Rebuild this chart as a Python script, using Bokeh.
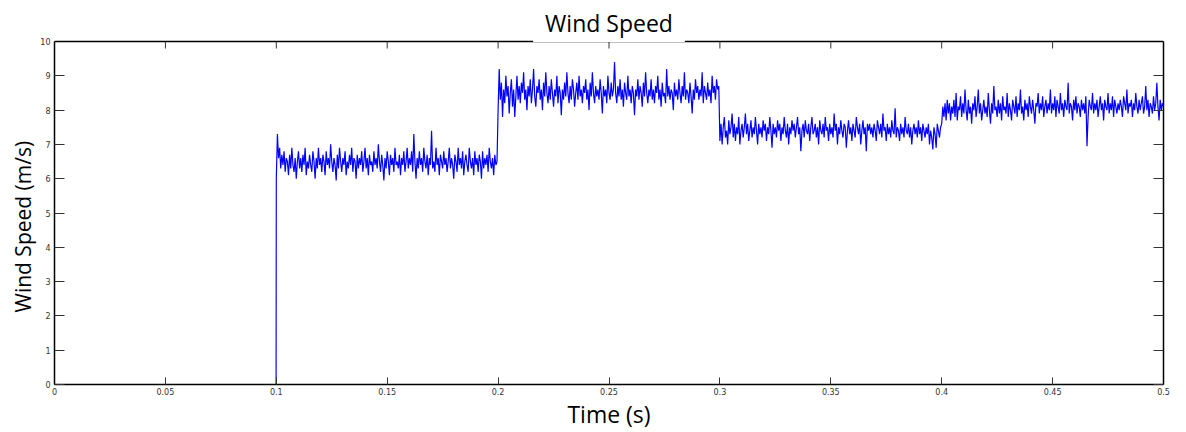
from bokeh.plotting import figure
from bokeh.models import Range1d, LinearAxis, FixedTicker, Label, Span, Title
from bokeh.embed import file_html
from bokeh.resources import INLINE

# ---- data ----
title_text = "Wind Speed"
x_label = "Time (s)"
y_label = "Wind Speed (m/s)"
x_ticks = [0, 0.05, 0.1, 0.15, 0.2, 0.25, 0.3, 0.35, 0.4, 0.45, 0.5]
x_tick_labels = ["0", "0.05", "0.1", "0.15", "0.2", "0.25", "0.3", "0.35", "0.4", "0.45", "0.5"]
y_ticks = [0, 1, 2, 3, 4, 5, 6, 7, 8, 9, 10]
y_tick_labels = ["0", "1", "2", "3", "4", "5", "6", "7", "8", "9", "10"]
y_max = 10

# calm period before the wind starts
calm_time = [0.0, 0.0999]
calm_speed = [0.0, 0.0]

# sampled every 0.5 ms from 0.100 s to 0.500 s
sample_start = 0.100
sample_step = 0.0005

speed_seg1 = [
    6.0, 7.3, 6.6, 6.9, 6.3, 6.7, 6.4, 6.8, 6.2, 6.6,
    6.5, 6.1, 6.7, 6.3, 6.9, 6.4, 6.2, 6.6, 6.0, 6.5,
    6.8, 6.3, 6.6, 6.2, 6.7, 6.4, 6.9, 6.1, 6.5, 6.3,
    6.7, 6.4, 6.2, 6.8, 6.5, 6.0, 6.6, 6.3, 6.9, 6.4,
    6.6, 6.2, 6.7, 6.5, 6.1, 6.8, 6.4, 6.6, 6.3, 7.0,
    6.5, 6.2, 6.6, 6.4, 5.95, 6.7, 6.3, 6.9, 6.5, 6.2,
    6.6, 6.4, 6.8, 6.1, 6.5, 6.3, 6.7, 6.4, 6.9, 6.2,
    6.6, 6.5, 6.0, 6.7, 6.3, 6.6, 6.4, 6.8, 6.2, 6.5,
    6.9, 6.3, 6.6, 6.1, 6.7, 6.4, 6.5, 6.2, 6.8, 6.4,
    6.6, 6.3, 7.0, 6.5, 6.2, 6.7, 6.4, 5.95, 6.6, 6.3,
    6.8, 6.5, 6.1, 6.7, 6.4, 6.6, 6.2, 6.9, 6.4, 6.5,
    6.3, 6.7, 6.1, 6.6, 6.4, 6.8, 6.2, 6.5, 6.9, 6.3,
    6.6, 6.4, 6.8, 6.2, 7.3, 6.5, 6.0, 6.6, 6.3, 6.8,
    6.4, 6.6, 6.2, 6.9, 6.5, 6.3, 6.7, 6.1, 6.6, 6.4,
    7.4, 6.3, 6.5, 6.2, 6.9, 6.4, 6.6, 6.1, 6.7, 6.5,
    6.3, 6.8, 6.4, 6.6, 6.2, 6.5, 6.9, 6.3, 6.6, 6.4,
    6.0, 6.7, 6.5, 6.2, 6.9, 6.4, 6.6, 6.3, 6.8, 6.1,
    6.5, 6.7, 6.4, 6.2, 6.9, 6.5, 6.3, 6.6, 6.1, 6.8,
    6.4, 6.6, 6.2, 6.7, 6.5, 6.0, 6.8, 6.3, 6.6, 6.4,
    6.7, 6.2, 6.9, 6.5, 6.3, 6.6, 6.1, 6.7, 6.4, 6.5,
]
speed_seg2 = [
    8.0, 9.2, 8.3, 8.8, 7.8, 8.6, 8.2, 9.0, 8.4, 8.7,
    7.9, 8.5, 8.9, 8.1, 8.6, 7.8, 8.4, 9.0, 8.3, 8.7,
    8.2, 8.8, 8.5, 9.1, 8.3, 8.6, 8.0, 8.7, 8.4, 8.9,
    8.2, 8.6, 9.2, 8.4, 8.1, 8.7, 8.5, 8.9, 8.3, 8.6,
    8.0, 8.8, 8.4, 9.1, 8.5, 8.2, 8.7, 8.3, 8.9, 8.5,
    8.1, 8.6, 8.4, 9.0, 8.2, 8.7, 8.5, 7.85, 8.6, 8.3,
    8.8, 8.4, 9.1, 8.5, 8.2, 8.7, 8.3, 8.9, 8.6, 8.1,
    8.5, 8.8, 8.3, 9.0, 8.4, 8.6, 8.2, 8.7, 8.5, 8.9,
    8.3, 8.6, 8.0, 8.8, 8.4, 9.1, 8.5, 8.2, 8.7, 8.4,
    8.6, 8.3, 8.9, 8.5, 7.9, 8.7, 8.4, 8.6, 8.2, 9.0,
    8.5, 8.3, 8.8, 8.4, 8.6, 9.4, 8.5, 8.2, 8.7, 8.4,
    8.9, 8.3, 8.6, 8.1, 8.8, 8.5, 8.3, 9.0, 8.4, 8.6,
    8.2, 8.7, 8.5, 7.85, 8.6, 8.4, 8.9, 8.3, 8.7, 8.5,
    8.1, 8.8, 8.4, 9.1, 8.5, 8.2, 8.6, 8.4, 8.9, 8.3,
    8.6, 8.2, 8.7, 8.5, 9.0, 8.3, 8.6, 8.1, 8.8, 8.4,
    8.5, 8.2, 9.2, 8.4, 8.7, 8.3, 8.6, 8.5, 8.0, 8.8,
    8.4, 8.6, 8.3, 8.9, 8.5, 8.2, 8.7, 8.4, 9.1, 8.3,
    8.6, 8.5, 8.2, 8.8, 8.4, 7.9, 8.6, 8.3, 8.9, 8.5,
    8.7, 8.3, 8.6, 8.4, 9.1, 8.2, 8.7, 8.5, 8.3, 8.8,
    8.4, 8.6, 8.2, 9.0, 8.5, 8.7, 8.3, 8.9, 8.6, 8.7,
]
speed_seg3 = [
    7.1, 7.6, 7.0, 7.5, 7.8, 7.2, 7.4, 7.0, 7.7, 7.3,
    7.5, 7.9, 7.2, 7.6, 7.1, 7.5, 7.3, 7.8, 7.0, 7.4,
    7.6, 7.2, 7.5, 7.9, 7.3, 7.6, 7.1, 7.4, 7.7, 7.2,
    7.5, 7.3, 7.8, 7.4, 7.0, 7.6, 7.3, 7.5, 7.2, 7.7,
    7.4, 7.6, 7.1, 7.5, 7.3, 7.8, 7.4, 6.9, 7.6, 7.3,
    7.5, 7.2, 7.7, 7.4, 7.6, 7.1, 7.5, 7.3, 7.8, 7.4,
    7.2, 7.6, 7.0, 7.5, 7.3, 7.7, 7.4, 7.6, 7.2, 7.5,
    7.8, 7.3, 7.5, 6.8, 7.4, 7.6, 7.2, 7.7, 7.4, 7.3,
    7.6, 7.1, 7.5, 7.8, 7.3, 7.4, 7.6, 7.2, 7.5, 7.0,
    7.7, 7.4, 7.3, 7.6, 7.2, 7.8, 7.4, 7.5, 7.1, 7.6,
    7.3, 7.5, 7.2, 7.9, 7.4, 7.6, 7.0, 7.5, 7.3, 7.7,
    7.4, 7.2, 7.6, 7.5, 6.9, 7.4, 7.7, 7.3, 7.5, 7.1,
    7.6, 7.4, 7.2, 7.8, 7.5, 7.3, 7.6, 7.0, 7.4, 7.7,
    7.3, 7.5, 6.8, 7.6, 7.4, 7.6, 7.3, 7.5, 7.2, 7.6,
    7.4, 7.1, 7.7, 7.5, 7.3, 7.6, 7.2, 7.9, 7.4, 7.5,
    7.1, 7.6, 7.3, 7.5, 7.2, 7.7, 7.4, 7.3, 8.05, 7.2,
    7.5, 7.4, 7.1, 7.6, 7.3, 7.5, 7.2, 7.8, 7.4, 7.3,
    7.6, 7.2, 7.5, 7.0, 7.4, 7.6, 7.3, 7.5, 7.2, 7.7,
    7.3, 7.5, 7.1, 7.6, 7.4, 7.2, 7.5, 7.3, 7.6, 7.0,
    7.4, 7.2, 6.85, 7.5, 7.3, 6.9, 7.6, 7.4, 7.2, 7.5,
]
speed_seg4 = [
    7.6, 8.1, 7.8, 8.2, 7.7, 8.3, 7.9, 8.2, 7.7, 8.1,
    7.9, 8.3, 7.8, 8.5, 7.7, 8.1, 8.0, 8.4, 7.8, 8.2,
    7.9, 8.6, 8.0, 7.7, 8.3, 7.9, 8.1, 7.6, 8.2, 8.0,
    8.4, 7.8, 8.1, 8.6, 7.9, 8.2, 7.7, 8.0, 8.3, 7.9,
    8.1, 7.8, 8.5, 8.0, 7.6, 8.2, 7.9, 8.7, 8.0, 8.1,
    7.8, 8.3, 7.9, 8.2, 7.7, 8.4, 8.0, 8.1, 7.9, 8.5,
    7.8, 8.2, 8.0, 7.7, 8.3, 8.1, 7.9, 8.4, 7.8, 8.2,
    8.0, 8.6, 7.9, 8.1, 7.7, 8.3, 8.0, 8.2, 7.8, 8.4,
    8.1, 7.9, 8.3, 8.0, 7.6, 8.2, 8.1, 8.5, 7.9, 8.2,
    8.0, 8.4, 7.8, 8.1, 8.3, 7.9, 8.2, 8.0, 8.6, 7.9,
    8.2, 8.0, 8.4, 7.8, 8.3, 8.1, 7.9, 8.5, 8.0, 8.2,
    7.8, 8.3, 8.1, 8.0, 8.8, 7.9, 8.2, 8.1, 7.7, 8.3,
    8.0, 8.4, 7.9, 8.2, 8.1, 7.8, 8.3, 8.0, 8.2, 7.9,
    8.4, 6.95, 7.8, 8.3, 8.1, 8.0, 8.5, 7.9, 8.2, 8.0,
    8.3, 7.8, 8.1, 8.4, 8.0, 8.2, 7.7, 8.3, 8.1, 8.0,
    8.5, 7.9, 8.2, 8.0, 8.4, 7.8, 8.3, 8.1, 7.9, 8.2,
    8.0, 8.3, 8.1, 7.8, 8.4, 8.2, 8.0, 8.6, 7.9, 8.2,
    8.1, 8.3, 7.8, 8.2, 8.0, 8.5, 8.1, 7.9, 8.3, 8.0,
    8.2, 8.4, 7.9, 8.1, 8.7, 8.0, 8.3, 7.8, 8.2, 8.1,
    7.9, 8.4, 8.0, 8.2, 8.8, 8.1, 7.7, 8.3, 8.0, 8.2,
    8.1,
]

speed = calm_speed + speed_seg1 + speed_seg2 + speed_seg3 + speed_seg4
n_samples = len(speed_seg1) + len(speed_seg2) + len(speed_seg3) + len(speed_seg4)
time = calm_time + [round(sample_start + i * sample_step, 5) for i in range(n_samples)]

# ---- layout ----
W, H = 1186, 432
border_left, border_right, border_top, border_bottom = 54, 23, 0, 48
axes_top_px = 41           # distance from canvas top to the y=10 border line
title_center_px = 18
frame_h = H - border_top - border_bottom
px_per_unit = (frame_h - axes_top_px) / y_max
y_top = y_max + axes_top_px / px_per_unit
x_tick_len = 7
y_tick_len = 10

p = figure(width=W, height=H, output_backend="svg", toolbar_location=None,
           x_range=Range1d(0, 0.5), y_range=Range1d(0, y_top),
           x_axis_location=None, y_axis_location=None,
           min_border_left=border_left, min_border_right=border_right,
           min_border_top=border_top, min_border_bottom=border_bottom)
p.title.visible = False
p.grid.visible = False
p.outline_line_color = None
p.background_fill_color = "white"
p.border_fill_color = "white"

tick_font = "DejaVu Sans"
label_font = "Open Sans"
tick_color = "#333333"

def style_axis(ax, tick_len, show_labels):
    ax.axis_line_color = "black"
    ax.axis_line_width = 1.5
    ax.major_tick_in = tick_len
    ax.major_tick_out = 0
    ax.minor_tick_line_color = None
    ax.major_tick_line_color = tick_color
    ax.major_tick_line_width = 1
    if show_labels:
        ax.major_label_text_font = tick_font
        ax.major_label_text_font_size = "8px"
        ax.major_label_text_color = "#333333"
        ax.axis_label_text_font = label_font
        ax.axis_label_text_font_style = "normal"
        ax.axis_label_text_color = "black"
    else:
        ax.major_label_text_color = None
        ax.major_label_text_font_size = "8px"
        ax.major_label_standoff = 0

xb = LinearAxis(ticker=FixedTicker(ticks=x_ticks),
                major_label_overrides={t: s for t, s in zip(x_ticks, x_tick_labels)},
                axis_label=x_label)
style_axis(xb, x_tick_len, True)
xb.axis_label_text_font_size = "23px"
xb.major_label_standoff = 3
xb.axis_label_standoff = 0
p.add_layout(xb, "below")

yl = LinearAxis(ticker=FixedTicker(ticks=y_ticks),
                major_label_overrides={t: s for t, s in zip(y_ticks, y_tick_labels)},
                bounds=(0, y_max))
style_axis(yl, y_tick_len, True)
yl.major_label_standoff = 4
p.add_layout(yl, "left")

# y-axis label: a vertical title starting near the bottom of the axis
y_title = Title(text=y_label, align="left", offset=72, standoff=2,
                text_font=label_font, text_font_size="21px", text_font_style="normal",
                text_color="black")
p.add_layout(y_title, "left")

yr = LinearAxis(ticker=FixedTicker(ticks=y_ticks), bounds=(0, y_max),
                major_label_overrides={t: "" for t in y_ticks})
style_axis(yr, y_tick_len, False)
p.add_layout(yr, "right")

# top border with inward ticks (drawn inside the taller frame)
p.segment(x0=x_ticks, y0=[y_max] * len(x_ticks), x1=x_ticks,
          y1=[y_max - x_tick_len / px_per_unit] * len(x_ticks),
          line_color=tick_color, line_width=1)
p.add_layout(Span(location=y_max, dimension="width", line_color="black", line_width=1.5))

p.line(time, speed, line_color="#0000FF", line_width=1.2)

title = Label(x=0.25, y=y_max + (axes_top_px - title_center_px) / px_per_unit, text=title_text,
              text_align="center", text_baseline="middle",
              text_font=label_font, text_font_size="23px", text_color="black",
              background_fill_color="white", background_fill_alpha=1.0,
              padding=dict(left=12, right=12, top=12, bottom=3))
p.add_layout(title)

open("out.html", "w").write(file_html(p, INLINE))
